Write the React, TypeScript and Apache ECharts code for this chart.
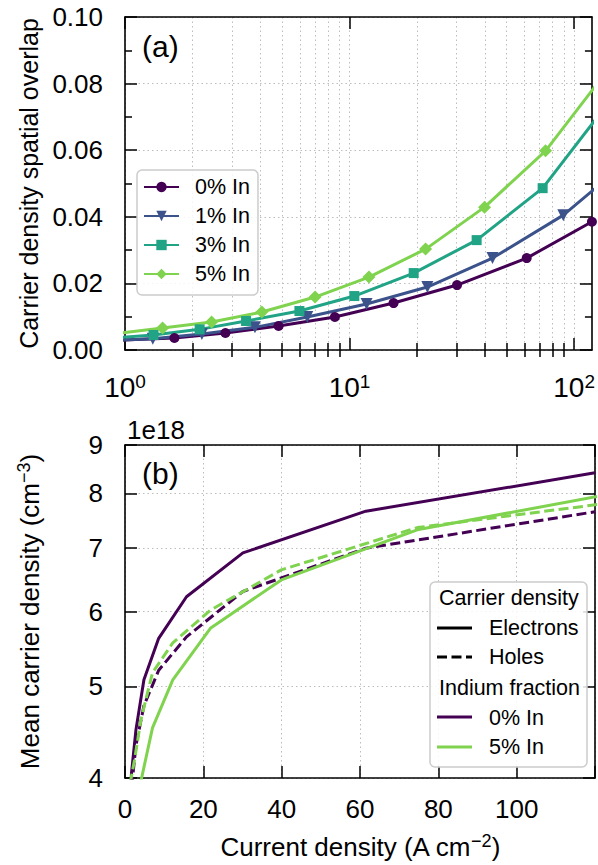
import React, { useEffect, useRef } from 'react';
import * as echarts from 'echarts';

const FONT = '"Liberation Sans", Arial, Helvetica, sans-serif';
const C0 = '#440154';
const C1 = '#3b528b';
const C3 = '#21a386';
const C5 = '#7fd34e';

// Panel (a): current density (A cm^-2) vs carrier density spatial overlap
const jIn0 = [0.97, 1.66, 2.8, 4.83, 8.6, 15.7, 30.1, 61.5, 120];
const overlapIn0 = [0.003, 0.0036, 0.0051, 0.0072, 0.0099, 0.0141, 0.0195, 0.0276, 0.0385];
const jIn1 = [0.78, 1.33, 2.2, 3.79, 6.48, 11.9, 22.2, 43.3, 89.5, 155];
const overlapIn1 = [0.0027, 0.0034, 0.0048, 0.0068, 0.0099, 0.0138, 0.0189, 0.0276, 0.0405, 0.054];
const jIn3 = [0.8, 1.34, 2.15, 3.46, 5.98, 10.5, 19.3, 36.8, 72.4, 145];
const overlapIn3 = [0.0034, 0.0045, 0.0062, 0.0087, 0.0117, 0.0162, 0.0231, 0.033, 0.0486, 0.075];
const jIn5 = [0.88, 1.47, 2.43, 4.07, 7.02, 12.2, 21.8, 39.9, 74.6, 145];
const overlapIn5 = [0.0048, 0.0066, 0.0084, 0.0114, 0.0159, 0.0219, 0.0303, 0.0429, 0.0598, 0.0851];

// Panel (b): mean carrier density (x1e18 cm^-3)
const electronsIn0 = [3.55, 4.05, 4.5, 5.08, 5.62, 6.22, 6.92, 7.66, 8.41];
const holesIn0 = [3.4, 3.9, 4.33, 4.77, 5.2, 5.64, 6.3, 7.0, 7.65];
const electronsIn5 = [3.0, 3.3, 3.6, 3.97, 4.52, 5.08, 5.76, 6.48, 7.32, 8.29];
const holesIn5 = [3.55, 3.98, 4.18, 4.61, 5.17, 5.56, 6.02, 6.64, 7.36, 8.02];

const legendA = ['0% In', '1% In', '3% In', '5% In'];
const logMajorExponents = [0, 1, 2];
const logMinorValues = [2, 3, 4, 5, 6, 7, 8, 9, 20, 30, 40, 50, 60, 70, 80, 90];
const densityTicks = [4, 5, 6, 7, 8, 9];

const TICK_FS = 26;
const LEG_FS = 21.5;
const LW = 3;

const gridLine = { show: true, lineStyle: { color: '#bdbdbd', width: 1, type: [1.5, 3] } };
const axisLine = { show: true, onZero: false, lineStyle: { color: '#000', width: 1.6 } };
const tickStyle = { color: '#000', width: 1.5 };

const toLogPairs = (xs: number[], ys: number[]) => xs.map((x, i) => [Math.log10(x), ys[i]]);
const toLogY = (xs: number[], ys: number[]) => xs.map((x, i) => [x, Math.log10(ys[i])]);

const supRich = {
  b: { fontSize: 28, fontFamily: FONT, color: '#000', lineHeight: 30 },
  s: { fontSize: 19, fontFamily: FONT, color: '#000', lineHeight: 8, verticalAlign: 'top' },
};
const nameRich = {
  a: { fontSize: TICK_FS, fontFamily: FONT, color: '#000', lineHeight: 30 },
  s: { fontSize: 18, fontFamily: FONT, color: '#000', lineHeight: 10, verticalAlign: 'top' },
};

export default function App() {
  const ref = useRef<HTMLDivElement>(null);
  useEffect(() => {
    if (!ref.current) return;
    const chart = echarts.init(ref.current, null, { renderer: 'svg' });
    const logMaxX = Math.log10(120);
    const lineSeries = (name: string, xs: number[], ys: number[], color: string, symbol: string, size: any) => ({
      name,
      type: 'line',
      xAxisIndex: 0,
      yAxisIndex: 0,
      data: toLogPairs(xs, ys),
      symbol,
      symbolSize: size,
      showSymbol: true,
      clip: true,
      lineStyle: { color, width: LW },
      itemStyle: { color },
      z: 3,
    });
    const densSeries = (name: string, xs: number[], ys: number[], color: string, dashed: boolean) => ({
      name,
      type: 'line',
      xAxisIndex: 4,
      yAxisIndex: 2,
      data: toLogY(xs, ys),
      showSymbol: false,
      symbol: 'none',
      clip: true,
      lineStyle: { color, width: LW, type: dashed ? [10, 4.5] : 'solid' },
      itemStyle: { color },
      z: 3,
    });

    const option: any = {
      animation: false,
      textStyle: { fontFamily: FONT },
      grid: [
        { left: 125, top: 17, width: 472, height: 333 },
        { left: 125, top: 445, width: 472, height: 333 },
      ],
      legend: {
        data: legendA,
        orient: 'vertical',
        left: 137,
        top: 170,
        itemWidth: 35,
        itemHeight: 13,
        itemGap: 7,
        padding: [6, 8, 10, 6],
        backgroundColor: 'rgba(255,255,255,0.85)',
        borderColor: '#cccccc',
        borderWidth: 1.5,
        borderRadius: 5,
        textStyle: { fontFamily: FONT, fontSize: LEG_FS, color: '#000', lineHeight: 22, padding: [0, 0, 0, 11] },
      },
      xAxis: [
        {
          gridIndex: 0, type: 'value', min: 0, max: logMaxX, position: 'bottom',
          axisLine,
          axisTick: { show: true, inside: true, length: 12, customValues: logMajorExponents, lineStyle: tickStyle },
          axisLabel: {
            customValues: logMajorExponents, margin: 22,
            formatter: (v: number) => `{b|10}{s|${Math.round(v)}}`,
            rich: supRich,
          },
          splitLine: gridLine,
        },
        {
          gridIndex: 0, type: 'value', min: 0, max: logMaxX, position: 'bottom',
          axisLine: { show: false },
          axisTick: { show: true, inside: true, length: 7, customValues: logMinorValues.map((v) => Math.log10(v)), lineStyle: tickStyle },
          axisLabel: { show: false },
          splitLine: gridLine,
        },
        {
          gridIndex: 0, type: 'value', min: 0, max: logMaxX, position: 'top',
          axisLine,
          axisTick: { show: true, inside: true, length: 12, customValues: logMajorExponents, lineStyle: tickStyle },
          axisLabel: { show: false },
          splitLine: { show: false },
        },
        {
          gridIndex: 0, type: 'value', min: 0, max: logMaxX, position: 'top',
          axisLine: { show: false },
          axisTick: { show: true, inside: true, length: 7, customValues: logMinorValues.map((v) => Math.log10(v)), lineStyle: tickStyle },
          axisLabel: { show: false },
          splitLine: { show: false },
        },
        {
          gridIndex: 1, type: 'value', min: 0, max: 120, interval: 20, position: 'bottom',
          axisLine,
          axisTick: { show: true, inside: true, length: 12, lineStyle: tickStyle },
          axisLabel: {
            fontSize: TICK_FS, color: '#000', margin: 18, fontFamily: FONT,
            formatter: (v: number) => (v >= 120 ? '' : String(v)),
          },
          splitLine: gridLine,
          name: '{a|Current density (A cm}{s|−2}{a|)}',
          nameLocation: 'middle',
          nameGap: 54,
          nameTextStyle: { rich: nameRich },
        },
        {
          gridIndex: 1, type: 'value', min: 0, max: 120, interval: 20, position: 'top',
          axisLine,
          axisTick: { show: true, inside: true, length: 12, lineStyle: tickStyle },
          axisLabel: { show: false },
          splitLine: { show: false },
        },
      ],
      yAxis: [
        {
          gridIndex: 0, type: 'value', min: 0, max: 0.1, interval: 0.02, position: 'left',
          axisLine,
          axisTick: { show: true, inside: true, length: 12, lineStyle: tickStyle },
          minorTick: { show: true, splitNumber: 2, length: 7, lineStyle: tickStyle },
          axisLabel: { fontSize: TICK_FS, color: '#000', margin: 22, fontFamily: FONT, formatter: (v: number) => v.toFixed(2) },
          splitLine: gridLine,
          name: 'Carrier density spatial overlap',
          nameLocation: 'middle',
          nameGap: 80,
          nameTextStyle: { fontSize: 25, color: '#000', fontFamily: FONT },
        },
        {
          gridIndex: 0, type: 'value', min: 0, max: 0.1, interval: 0.02, position: 'right',
          axisLine,
          axisTick: { show: true, inside: true, length: 12, lineStyle: tickStyle },
          minorTick: { show: true, splitNumber: 2, length: 7, lineStyle: tickStyle },
          axisLabel: { show: false },
          splitLine: { show: false },
        },
        {
          gridIndex: 1, type: 'value', min: Math.log10(4), max: Math.log10(9), position: 'left',
          axisLine,
          axisTick: { show: true, inside: true, length: 12, customValues: densityTicks.map((v) => Math.log10(v)), lineStyle: tickStyle },
          axisLabel: {
            customValues: densityTicks.map((v) => Math.log10(v)),
            fontSize: TICK_FS, color: '#000', margin: 22, fontFamily: FONT,
            formatter: (v: number) => String(Math.round(Math.pow(10, v))),
          },
          splitLine: gridLine,
          name: '{a|Mean carrier density (cm}{s|−3}{a|)}',
          nameLocation: 'middle',
          nameGap: 80,
          nameTextStyle: { rich: nameRich },
        },
        {
          gridIndex: 1, type: 'value', min: Math.log10(4), max: Math.log10(9), position: 'right',
          axisLine,
          axisTick: { show: true, inside: true, length: 12, customValues: densityTicks.map((v) => Math.log10(v)), lineStyle: tickStyle },
          axisLabel: { show: false },
          splitLine: { show: false },
        },
      ],
      series: [
        lineSeries('0% In', jIn0, overlapIn0, C0, 'circle', 10),
        lineSeries('1% In', jIn1, overlapIn1, C1, 'path://M0,0L10,0L5,9Z', 12),
        lineSeries('3% In', jIn3, overlapIn3, C3, 'rect', 10),
        lineSeries('5% In', jIn5, overlapIn5, C5, 'diamond', 13),
        densSeries('Electrons 0% In', jIn0, electronsIn0, C0, false),
        densSeries('Holes 0% In', jIn0, holesIn0, C0, true),
        densSeries('Electrons 5% In', jIn5, electronsIn5, C5, false),
        densSeries('Holes 5% In', jIn5, holesIn5, C5, true),
      ],
      graphic: [
        { type: 'text', left: 142, top: 31, z: 50, style: { text: '(a)', fontSize: 30, fontFamily: FONT, fill: '#000' } },
        { type: 'text', left: 142, top: 458, z: 50, style: { text: '(b)', fontSize: 30, fontFamily: FONT, fill: '#000' } },
        { type: 'text', left: 127, top: 417, z: 50, style: { text: '1e18', fontSize: TICK_FS, fontFamily: FONT, fill: '#000' } },
        {
          type: 'group', z: 100,
          children: [
            { type: 'rect', shape: { x: 430, y: 582, width: 157, height: 185, r: 5 }, style: { fill: 'rgba(255,255,255,0.85)', stroke: '#cccccc', lineWidth: 1.5 }, z: 100 },
            { type: 'text', x: 439, y: 598, z: 101, style: { text: 'Carrier density', fontSize: LEG_FS, fontFamily: FONT, fill: '#000', verticalAlign: 'middle' } },
            { type: 'line', shape: { x1: 437, y1: 628, x2: 472, y2: 628 }, z: 101, style: { stroke: '#000', lineWidth: LW } },
            { type: 'text', x: 489, y: 628, z: 101, style: { text: 'Electrons', fontSize: LEG_FS, fontFamily: FONT, fill: '#000', verticalAlign: 'middle' } },
            { type: 'line', shape: { x1: 437, y1: 657, x2: 472, y2: 657 }, z: 101, style: { stroke: '#000', lineWidth: LW, lineDash: [10, 4.5] } },
            { type: 'text', x: 489, y: 657, z: 101, style: { text: 'Holes', fontSize: LEG_FS, fontFamily: FONT, fill: '#000', verticalAlign: 'middle' } },
            { type: 'text', x: 439, y: 688, z: 101, style: { text: 'Indium fraction', fontSize: LEG_FS, fontFamily: FONT, fill: '#000', verticalAlign: 'middle' } },
            { type: 'line', shape: { x1: 437, y1: 717, x2: 472, y2: 717 }, z: 101, style: { stroke: C0, lineWidth: LW } },
            { type: 'text', x: 489, y: 718, z: 101, style: { text: '0% In', fontSize: LEG_FS, fontFamily: FONT, fill: '#000', verticalAlign: 'middle' } },
            { type: 'line', shape: { x1: 437, y1: 747, x2: 472, y2: 747 }, z: 101, style: { stroke: C5, lineWidth: LW } },
            { type: 'text', x: 489, y: 747, z: 101, style: { text: '5% In', fontSize: LEG_FS, fontFamily: FONT, fill: '#000', verticalAlign: 'middle' } },
          ],
        },
      ],
    };
    chart.setOption(option);
    return () => chart.dispose();
  }, []);
  return <div ref={ref} style={{ position: 'fixed', left: 0, top: 0, width: 598, height: 865, background: '#fff' }} />;
}
